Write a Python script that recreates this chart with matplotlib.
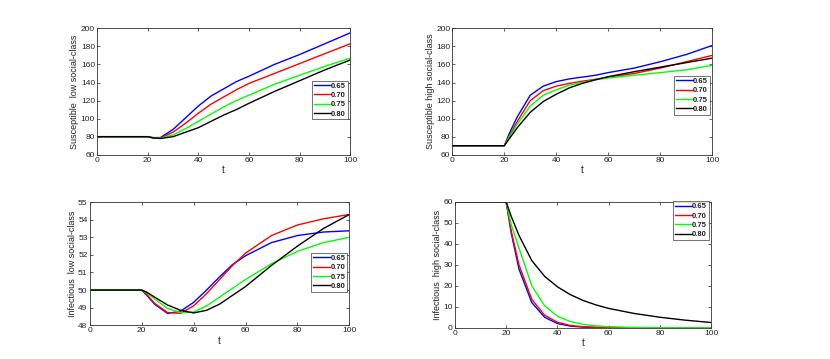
import matplotlib.pyplot as plt

plt.rcParams['font.family'] = ['Liberation Sans', 'DejaVu Sans']

t = [0, 20, 22, 25, 30, 35, 40, 45, 50, 55, 60, 70, 80, 90, 100]
labels = ["0.65", "0.70", "0.75", "0.80"]
colors = ["#0000ff", "#ff0000", "#00ff00", "#000000"]

# Susceptible low social-class
s_low = [
    [80, 80, 79.0, 79.0, 88, 101, 114, 125, 133, 141, 147, 160, 171, 183, 195],
    [80, 80, 78.8, 78.5, 85, 95, 106, 116, 124, 132, 139, 150, 161, 172, 183],
    [80, 80, 78.7, 78.3, 82, 89, 97, 105, 113, 120, 126, 138, 148, 158, 167],
    [80, 80, 78.6, 78.0, 80, 85, 90, 97, 104, 110, 117, 130, 142, 154, 165],
]

# Susceptible high social-class
s_high = [
    [70, 70, 84, 102, 126, 136, 141, 144, 146, 148, 151, 156, 163, 171, 181],
    [70, 70, 81, 97, 120, 131, 136, 139, 141.5, 143.5, 146, 150, 156, 163, 170],
    [70, 70, 80, 94, 114, 126, 132, 137, 140, 143, 145, 148, 151, 154, 159],
    [70, 70, 78, 90, 107, 119, 127, 134, 139, 143, 146.5, 152, 157, 162, 167],
]

# Infectious low social-class
i_low = [
    [50, 50, 49.7, 49.2, 48.67, 48.8, 49.3, 50.0, 50.75, 51.45, 51.95, 52.7, 53.1, 53.3, 53.37],
    [50, 50, 49.75, 49.25, 48.72, 48.68, 49.1, 49.8, 50.6, 51.4, 52.1, 53.1, 53.7, 54.05, 54.3],
    [50, 50, 49.85, 49.5, 48.95, 48.72, 48.75, 49.1, 49.6, 50.1, 50.6, 51.5, 52.2, 52.7, 53.0],
    [50, 50, 49.88, 49.6, 49.15, 48.85, 48.7, 48.85, 49.2, 49.7, 50.2, 51.4, 52.5, 53.5, 54.3],
]

# Infectious high social-class
i_high = [
    [60, 60, 45, 28, 12, 5, 2, 0.8, 0.3, 0.1, 0.05, 0, 0, 0, 0],
    [60, 60, 46, 30, 13.5, 6, 2.6, 1.1, 0.5, 0.2, 0.1, 0, 0, 0, 0],
    [60, 60, 49, 38, 20, 10.5, 5.5, 3, 1.6, 0.9, 0.5, 0.15, 0.05, 0, 0],
    [60, 60, 53, 44, 32, 24.5, 19.5, 15.8, 13, 10.9, 9.2, 6.8, 5, 3.6, 2.5],
]

panels = [
    (s_low, "Susceptible  low social-class", (60, 200), range(60, 201, 20), [0.117, 0.569, 0.305, 0.352], (1.0, 0.433)),
    (s_high, "Susceptible high social-class", (60, 200), range(60, 201, 20), [0.545, 0.569, 0.313, 0.352], (1.0, 0.47)),
    (i_low, "Infectious  low social-class", (48, 55), range(48, 56), [0.108, 0.094, 0.313, 0.343], (1.0, 0.43)),
    (i_high, "Infectious  high social-class", (0, 60), range(0, 61, 10), [0.548, 0.087, 0.309, 0.351], (1.0, 0.85)),
]

fig = plt.figure(figsize=(8.3, 3.59), dpi=100)
txt = "#222222"

for data, ylab, ylim, yt, rect, anchor in panels:
    ax = fig.add_axes(rect)
    for vals, lab, c in zip(data, labels, colors):
        ax.plot(t, vals, color=c, lw=1.0, label=lab)
    ax.set_xlim(0, 100)
    ax.set_ylim(*ylim)
    ax.set_xticks(range(0, 101, 20))
    ax.set_yticks(list(yt))
    ax.tick_params(direction="in", length=2.5, width=0.5, labelsize=6,
                   top=True, right=True, colors=txt, pad=1.5)
    for sp in ax.spines.values():
        sp.set_linewidth(0.6)
        sp.set_color("#333333")
    ax.set_xlabel("t", fontsize=7, color=txt, labelpad=1)
    ax.set_ylabel(ylab, fontsize=6.5, color=txt, labelpad=1)
    leg = ax.legend(loc="center right", bbox_to_anchor=anchor, fontsize=5.5,
                    frameon=True, fancybox=False, handlelength=2.2,
                    handletextpad=0.05, borderpad=0.25, labelspacing=0.25,
                    borderaxespad=0.3)
    leg.get_frame().set_edgecolor("#333333")
    leg.get_frame().set_linewidth(0.6)
    for tx in leg.get_texts():
        tx.set_fontweight("bold")
        tx.set_color(txt)

fig.savefig("out.png", dpi=100)
